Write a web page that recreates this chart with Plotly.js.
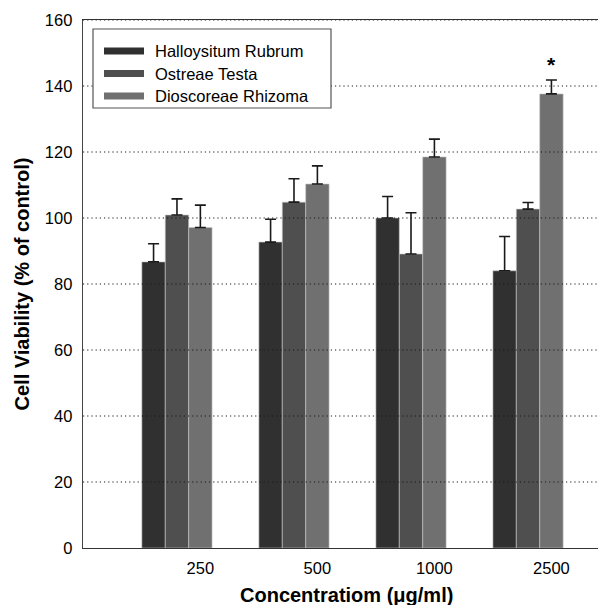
<!DOCTYPE html>
<html>
<head>
<meta charset="utf-8">
<script src="https://cdn.plot.ly/plotly-3.0.1.min.js"></script>
<style>html,body{margin:0;padding:0;background:#fff;}#chart{width:598px;height:605px;}</style>
</head>
<body>
<div id="chart"></div>
<script>
// ---- data ----
const categories = ['250', '500', '1000', '2500'];
const seriesNames = ['Halloysitum Rubrum', 'Ostreae Testa', 'Dioscoreae Rhizoma'];
const halloysitum = [86.7, 92.7, 100.0, 84.0];
const halloysitumErr = [5.5, 6.9, 6.5, 10.4];
const ostreae = [100.9, 104.8, 89.1, 102.7];
const ostreaeErr = [4.9, 7.1, 12.5, 2.0];
const dioscoreae = [97.1, 110.3, 118.5, 137.6];
const dioscoreaeErr = [6.8, 5.5, 5.4, 4.2];
const dioscoreaeMarks = ['', '', '', '*'];
const yTicks = [0, 20, 40, 60, 80, 100, 120, 140, 160];

const colors = ['#303030', '#4f4f4f', '#707070'];
const values = [halloysitum, ostreae, dioscoreae];
const errs = [halloysitumErr, ostreaeErr, dioscoreaeErr];

const W = 598, H = 605;
const mL = 83, mR = 0, mT = 20, mB = 57;
const pw = W - mL - mR, ph = H - mT - mB;
const px = x => (x - mL) / pw;
const py = y => (H - mB - y) / ph;
const FONT = 'Liberation Sans, Arial, sans-serif';

const xs = categories.map((c, i) => i);
const traces = values.map((v, s) => ({
  type: 'bar',
  name: seriesNames[s],
  x: xs,
  y: v,
  marker: {color: colors[s], line: {color: '#c8c8c8', width: 0.6}},
  error_y: {type: 'data', symmetric: false, array: errs[s], arrayminus: v.map(() => 0),
            color: '#1a1a1a', thickness: 1.6, width: 5.5},
  showlegend: false,
  hoverinfo: 'skip'
}));

const shapes = [];
const annotations = [];
// dotted gridlines above bars
yTicks.forEach(t => {
  if (t === 0) return;
  shapes.push({type: 'line', xref: 'paper', yref: 'y', x0: 0, x1: 1, y0: t, y1: t,
    line: {color: '#1a1a1a', width: 1, dash: '1.2px,3px'}, layer: 'above'});
});
// custom legend
shapes.push({type: 'rect', xref: 'paper', yref: 'paper', x0: px(93), x1: px(331), y0: py(108), y1: py(29),
  line: {color: '#555', width: 1.2}, fillcolor: 'rgba(255,255,255,1)', layer: 'above'});
const rowY = [51, 73.5, 96];
seriesNames.forEach((n, s) => {
  shapes.push({type: 'rect', xref: 'paper', yref: 'paper', x0: px(104), x1: px(144),
    y0: py(rowY[s] + 3.5), y1: py(rowY[s] - 3.5), line: {width: 0}, fillcolor: colors[s], layer: 'above'});
  annotations.push({xref: 'paper', yref: 'paper', x: px(153), y: py(rowY[s]), text: n,
    showarrow: false, xanchor: 'left', yanchor: 'middle',
    font: {family: FONT, size: 16.5, color: '#000'}});
});
// significance marks
dioscoreaeMarks.forEach((m, i) => {
  if (!m) return;
  annotations.push({x: xs[i] + 0.2, y: dioscoreae[i] + dioscoreaeErr[i], xref: 'x', yref: 'y',
    text: '<b>' + m + '</b>', showarrow: false, yanchor: 'bottom', yshift: 2,
    font: {family: FONT, size: 21, color: '#000'}});
});
// x-axis title (slightly right of plot centre, as in the reference)
annotations.push({xref: 'paper', yref: 'paper', x: px(346), y: py(595), xanchor: 'center', yanchor: 'middle',
  text: '<b>Concentratiom (μg/ml)</b>', showarrow: false, font: {family: FONT, size: 20, color: '#000'}});

const layout = {
  width: W, height: H,
  margin: {l: mL, r: mR, t: mT, b: mB, pad: 0},
  paper_bgcolor: '#fff', plot_bgcolor: '#fff',
  barmode: 'group', bargap: 0.4, bargroupgap: 0,
  font: {family: FONT, color: '#000'},
  xaxis: {
    range: [-0.803, 3.598], tickvals: xs.map(x => x + 0.2), ticktext: categories,
    showgrid: false, zeroline: false, showline: true, mirror: true, linecolor: '#333', linewidth: 1.3,
    ticks: '', tickfont: {size: 16.5, color: '#000'}, ticklabelstandoff: 5
  },
  yaxis: {
    range: [0, 160], tickvals: yTicks, showgrid: false, zeroline: false,
    showline: true, linecolor: '#444', linewidth: 1.3, ticks: '', ticklen: 0,
    tickfont: {size: 16.5, color: '#000'}, ticklabelstandoff: 6,
    title: {text: '<b>Cell Viability (% of control)</b>', font: {size: 20, color: '#000'}, standoff: 10}
  },
  shapes: shapes,
  annotations: annotations
};

Plotly.newPlot('chart', traces, layout, {displayModeBar: false, staticPlot: true});
</script>
</body>
</html>
